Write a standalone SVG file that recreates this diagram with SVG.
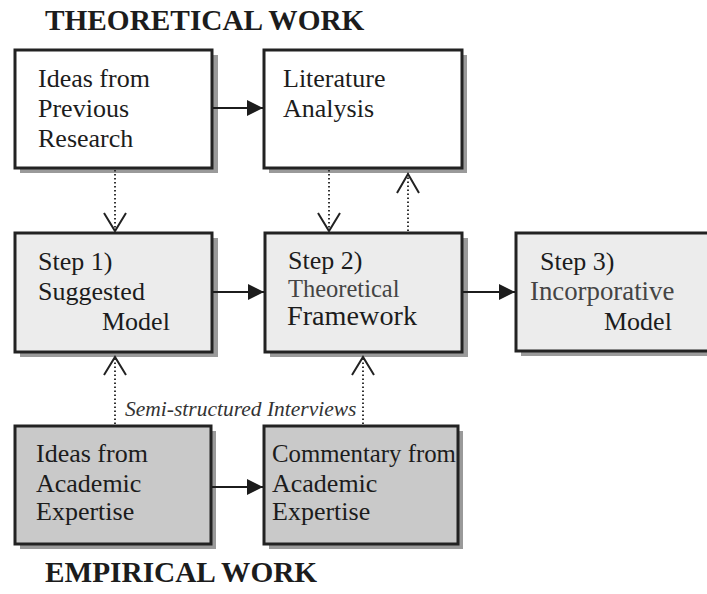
<svg xmlns="http://www.w3.org/2000/svg" width="707" height="594" viewBox="0 0 707 594">
  <style>
    .title { font-family: "Liberation Serif", "Times New Roman", serif; font-weight: bold; font-size: 29.3px; fill: #1c1c1c; }
    .lbl { font-family: "Liberation Serif", "Times New Roman", serif; font-size: 26px; fill: #1c1c1c; }
    .soft { fill: #444; }
    .note { font-family: "Liberation Serif", "Times New Roman", serif; font-style: italic; font-size: 21.5px; fill: #333; }
    .shadow { fill: #9a9a9a; }
    .box { stroke: #222; stroke-width: 3; }
    .white { fill: #ffffff; }
    .light { fill: #ececec; }
    .dark { fill: #c9c9c9; }
    .solid { stroke: #1c1c1c; stroke-width: 2.2; fill: none; }
    .dotted { stroke: #333; stroke-width: 2; stroke-dasharray: 1.6 2.4; fill: none; }
    .vhead { stroke: #222; stroke-width: 2; fill: none; }
  </style>
  <defs>
    <marker id="tri" viewBox="0 0 16 16" refX="16" refY="8" markerWidth="16" markerHeight="16" markerUnits="userSpaceOnUse" orient="auto">
      <path d="M0,0 L16,8 L0,16 Z" fill="#1c1c1c"/>
    </marker>
  </defs>

  <text class="title" x="45" y="30">THEORETICAL WORK</text>
  <text class="title" x="45" y="582">EMPIRICAL WORK</text>

  <g id="previous-research">
    <rect class="shadow" x="20" y="55" width="198" height="118"/>
    <rect class="box white" x="15" y="50" width="197" height="118"/>
    <text class="lbl" x="38" y="87">Ideas from</text>
    <text class="lbl" x="38" y="117">Previous</text>
    <text class="lbl" x="38" y="147">Research</text>
  </g>

  <g id="literature-analysis">
    <rect class="shadow" x="269" y="55" width="198" height="118"/>
    <rect class="box white" x="264" y="50" width="198" height="118"/>
    <text class="lbl" x="283" y="87">Literature</text>
    <text class="lbl" x="283" y="117">Analysis</text>
  </g>

  <g id="step1">
    <rect class="shadow" x="20" y="238" width="198" height="119"/>
    <rect class="box light" x="15" y="233" width="197" height="119"/>
    <text class="lbl" x="38" y="270">Step 1)</text>
    <text class="lbl" x="38" y="300">Suggested</text>
    <text class="lbl" x="102" y="330">Model</text>
  </g>

  <g id="step2">
    <rect class="shadow" x="270" y="238" width="198" height="119"/>
    <rect class="box light" x="265" y="233" width="197" height="119"/>
    <text class="lbl" x="288" y="269">Step 2)</text>
    <text class="lbl soft" x="288" y="297" style="font-size:24.5px">Theoretical</text>
    <text class="lbl" x="287" y="325" style="font-size:28px" textLength="130" lengthAdjust="spacingAndGlyphs">Framework</text>
  </g>

  <g id="step3">
    <rect class="shadow" x="521" y="238" width="200" height="118"/>
    <rect class="box light" x="516" y="233" width="200" height="118"/>
    <text class="lbl" x="540" y="270">Step 3)</text>
    <text class="lbl soft" x="530" y="300" style="font-size:26.8px">Incorporative</text>
    <text class="lbl" x="604" y="330">Model</text>
  </g>

  <g id="academic-ideas">
    <rect class="shadow" x="20" y="431" width="196" height="118"/>
    <rect class="box dark" x="15" y="426" width="196" height="118"/>
    <text class="lbl" x="36" y="462">Ideas from</text>
    <text class="lbl" x="36" y="492">Academic</text>
    <text class="lbl" x="36" y="520">Expertise</text>
  </g>

  <g id="academic-commentary">
    <rect class="shadow" x="269" y="431" width="194" height="118"/>
    <rect class="box dark" x="264" y="426" width="194" height="118"/>
    <text class="lbl" x="272" y="462" style="font-size:24.8px">Commentary from</text>
    <text class="lbl" x="272" y="492">Academic</text>
    <text class="lbl" x="272" y="520">Expertise</text>
  </g>

  <g id="connectors">
    <!-- solid flow arrows -->
    <line class="solid" x1="213" y1="108" x2="263" y2="108" marker-end="url(#tri)"/>
    <line class="solid" x1="213" y1="292" x2="264" y2="292" marker-end="url(#tri)"/>
    <line class="solid" x1="463" y1="292" x2="515" y2="292" marker-end="url(#tri)"/>
    <line class="solid" x1="212" y1="487" x2="263" y2="487" marker-end="url(#tri)"/>

    <!-- dotted links with open heads -->
    <line class="dotted" x1="115" y1="170" x2="115" y2="231"/>
    <polyline class="vhead" points="104,213 115,231 126,213"/>

    <line class="dotted" x1="329" y1="170" x2="329" y2="231"/>
    <polyline class="vhead" points="318,213 329,231 340,213"/>

    <line class="dotted" x1="408" y1="231" x2="408" y2="172"/>
    <polyline class="vhead" points="397,193 408,174 419,193"/>

    <line class="dotted" x1="115" y1="424" x2="115" y2="356"/>
    <polyline class="vhead" points="104,375 115,357 126,375"/>

    <line class="dotted" x1="363" y1="424" x2="363" y2="356"/>
    <polyline class="vhead" points="352,375 363,357 374,375"/>

    <text class="note" x="125" y="416">Semi-structured Interviews</text>
  </g>
</svg>
